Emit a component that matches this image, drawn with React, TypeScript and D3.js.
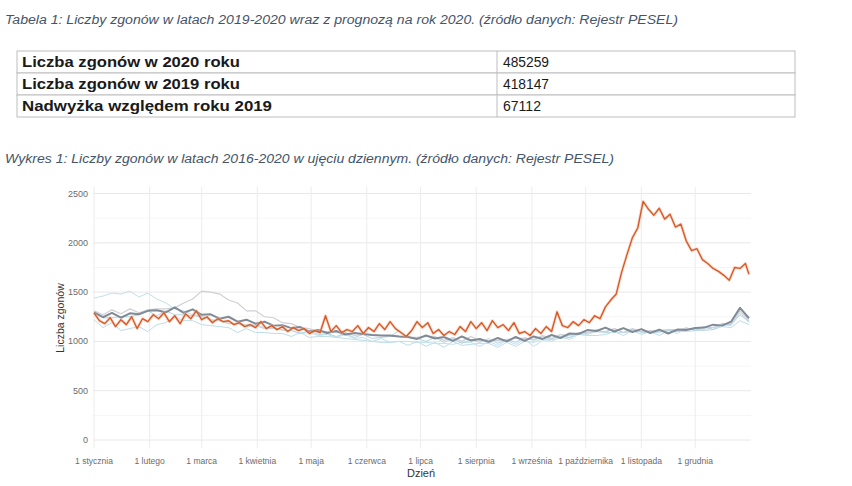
import React from "react";
import * as d3 from "d3";

// ---------- Table data ----------
const tableLabels = ["Liczba zgonów w 2020 roku", "Liczba zgonów w 2019 roku", "Nadwyżka względem roku 2019"];
const tableValues = ["485259", "418147", "67112"];

const tableTitle = "Tabela 1: Liczby zgonów w latach 2019-2020 wraz z prognozą na rok 2020. (źródło danych: Rejestr PESEL)";
const chartTitle = "Wykres 1: Liczby zgonów w latach 2016-2020 w ujęciu dziennym. (źródło danych: Rejestr PESEL)";

// ---------- Chart axis data ----------
const monthLabels = ["1 stycznia", "1 lutego", "1 marca", "1 kwietnia", "1 maja", "1 czerwca", "1 lipca", "1 sierpnia", "1 września", "1 października", "1 listopada", "1 grudnia"];
const monthStartDays = [0, 31, 60, 91, 121, 152, 182, 213, 244, 274, 305, 335];
const yTicks = [0, 500, 1000, 1500, 2000, 2500];
const yMinorTicks = [250, 750, 1250, 1750, 2250];

// ---------- Series (daily deaths, sampled) ----------
// 2020, one value every 3 days
const step2020 = 3;
const deaths2020 = [
  1290, 1210, 1180, 1240, 1150, 1220, 1170, 1250, 1130, 1230, 1200, 1270, 1230, 1290, 1200, 1260, 1180, 1280, 1230, 1310,
  1220, 1250, 1190, 1230, 1200, 1210, 1170, 1190, 1150, 1170, 1140, 1200, 1130, 1160, 1120, 1150, 1100, 1140, 1110, 1130,
  1080, 1110, 1090, 1260, 1100, 1160, 1090, 1120, 1100, 1160, 1080, 1140, 1100, 1180, 1120, 1200, 1130, 1090, 1050, 1110,
  1200, 1140, 1190, 1080, 1120, 1060, 1100, 1070, 1150, 1100, 1200, 1130, 1190, 1110, 1210, 1140, 1170, 1110, 1190, 1080,
  1100, 1060, 1130, 1080, 1150, 1100, 1300, 1160, 1140, 1200, 1160, 1220, 1190, 1260, 1230, 1350, 1420, 1480, 1700, 1880,
  2050, 2150, 2420, 2340, 2280, 2350, 2240, 2290, 2160, 2190, 2020, 1920, 1940, 1830, 1790, 1740, 1710, 1670, 1620, 1750,
  1740, 1790, 1680,
];

// background years and mean, one value every 5 days
const stepBg = 5;
const deathsMean = [
  1295, 1245, 1290, 1240, 1285, 1275, 1310, 1315, 1295, 1345, 1290, 1325, 1270, 1275, 1230, 1250, 1200, 1220, 1180, 1200,
  1160, 1165, 1135, 1145, 1100, 1115, 1085, 1105, 1070, 1085, 1075, 1065, 1060, 1060, 1050, 1045, 1025, 1060, 1030, 1045,
  1005, 1050, 1010, 1025, 995, 1035, 1000, 1045, 1005, 1050, 1025, 1065, 1035, 1080, 1075, 1115, 1105, 1140, 1100, 1135,
  1095, 1125, 1085, 1120, 1080, 1120, 1115, 1135, 1140, 1170, 1160, 1200, 1340, 1235,
];
const deaths2016 = [
  1220, 1140, 1190, 1110, 1130, 1150, 1100, 1170, 1190, 1250, 1210, 1210, 1170, 1160, 1150, 1140, 1090, 1130, 1090, 1090,
  1080, 1080, 1050, 1090, 1040, 1050, 1050, 1040, 1030, 1020, 1010, 1000, 990, 990, 1000, 960, 1000, 950, 990, 940,
  1000, 960, 970, 980, 980, 940, 990, 950, 1000, 990, 1030, 1000, 1050, 1020, 1070, 1060, 1060, 1070, 1100, 1060,
  1110, 1070, 1100, 1060, 1110, 1100, 1100, 1110, 1110, 1120, 1150, 1140, 1210, 1170,
];
const deaths2017 = [
  1440, 1460, 1490, 1480, 1510, 1450, 1490, 1430, 1390, 1330, 1310, 1270, 1260, 1210, 1210, 1180, 1180, 1170, 1170, 1140,
  1140, 1110, 1110, 1080, 1090, 1060, 1070, 1040, 1070, 1030, 1040, 1000, 1030, 990, 1000, 1000, 990, 990, 980, 980,
  970, 990, 990, 950, 1000, 960, 1010, 970, 1020, 950, 1010, 1020, 1030, 1040, 1070, 1070, 1100, 1090, 1090, 1090,
  1100, 1100, 1090, 1090, 1120, 1080, 1130, 1120, 1120, 1140, 1170, 1160, 1290, 1190,
];
const deaths2018 = [
  1310, 1270, 1320, 1280, 1330, 1290, 1320, 1330, 1330, 1340, 1390, 1430, 1510, 1500, 1480, 1420, 1390, 1310, 1310, 1250,
  1240, 1190, 1180, 1140, 1130, 1090, 1100, 1090, 1090, 1060, 1070, 1070, 1060, 1050, 1050, 1040, 1040, 1050, 1050, 1010,
  1040, 1000, 1050, 1010, 1010, 1010, 1020, 1030, 1030, 1020, 1060, 1030, 1070, 1060, 1090, 1090, 1100, 1100, 1130, 1090,
  1130, 1100, 1110, 1110, 1120, 1120, 1130, 1130, 1140, 1140, 1180, 1180, 1310, 1210,
];
const deaths2019 = [
  1290, 1240, 1240, 1250, 1250, 1270, 1310, 1260, 1310, 1270, 1270, 1260, 1250, 1220, 1210, 1180, 1180, 1150, 1160, 1130,
  1130, 1120, 1110, 1080, 1110, 1070, 1080, 1050, 1080, 1040, 1070, 1030, 1040, 1050, 1110, 1040, 1030, 1000, 1040, 990,
  1030, 980, 1020, 990, 1030, 980, 1020, 990, 1040, 1010, 1050, 1020, 1070, 1040, 1090, 1080, 1120, 1090, 1130, 1090,
  1120, 1090, 1100, 1100, 1110, 1100, 1140, 1110, 1150, 1120, 1170, 1170, 1270, 1200,
];

const W = 852;
const H = 486;
const LAST_DAY = 365;

const x = d3.scaleLinear().domain([0, LAST_DAY]).range([94, 749]);
const y = d3.scaleLinear().domain([0, 2500]).range([440, 193.5]);

function toPoints(values: number[], step: number): [number, number][] {
  return values.map((v, i) => [Math.min(i * step, LAST_DAY), v]);
}

const line = d3
  .line<[number, number]>()
  .x((d) => x(d[0]))
  .y((d) => y(d[1]));

const bgSeries = [
  { name: "2016", values: deaths2016, color: "#bddde9", width: 1 },
  { name: "2017", values: deaths2017, color: "#c2e0eb", width: 1 },
  { name: "2019", values: deaths2019, color: "#b3d6e4", width: 1 },
  { name: "2018", values: deaths2018, color: "#d0d0d6", width: 1.2 },
];

const titleColor = "#44546a";
const font = "'Liberation Sans', Arial, sans-serif";

export default function App() {
  const rowTop = [51, 73, 95];
  const rowH = 22;
  const tLeft = 17;
  const tRight = 795;
  const tMid = 497;
  const tableLabelWidths = [218, 218, 250];
  const tableValueWidths = [46, 46, 38];

  const panelTop = 187;
  const panelBottom = 448;
  const panelLeft = 93;
  const panelRight = 751;

  return (
    <svg width={W} height={H} style={{ position: "absolute", left: 0, top: 0, background: "#fff" }}>
      <rect width={W} height={H} fill="#fff" />
      {/* Table title */}
      <text x={5} y={24} fontFamily={font} fontStyle="italic" fontSize={12} fill={titleColor} textLength={673} lengthAdjust="spacingAndGlyphs">
        {tableTitle}
      </text>

      {/* Table */}
      <g>
        {rowTop.map((t, i) => (
          <g key={i}>
            <rect x={tLeft} y={t} width={tRight - tLeft} height={rowH} fill="#fff" stroke="#bdbdbd" strokeWidth={1} />
            <line x1={tMid} x2={tMid} y1={t} y2={t + rowH} stroke="#bdbdbd" strokeWidth={1} />
            <text x={22} y={t + 16} fontFamily={font} fontWeight="bold" fontSize={14} fill="#1a1a1a" textLength={tableLabelWidths[i]} lengthAdjust="spacingAndGlyphs">
              {tableLabels[i]}
            </text>
            <text x={503} y={t + 16} fontFamily={font} fontSize={14} fill="#1a1a1a" textLength={tableValueWidths[i]} lengthAdjust="spacingAndGlyphs">
              {tableValues[i]}
            </text>
          </g>
        ))}
      </g>

      {/* Chart title */}
      <text x={5} y={163} fontFamily={font} fontStyle="italic" fontSize={12} fill={titleColor} textLength={609} lengthAdjust="spacingAndGlyphs">
        {chartTitle}
      </text>

      {/* Grid */}
      <g>
        {yMinorTicks.map((t) => (
          <line key={"ym" + t} x1={panelLeft} x2={panelRight} y1={y(t)} y2={y(t)} stroke="#f3f3f3" strokeWidth={0.8} />
        ))}
        {yTicks.map((t) => (
          <line key={"y" + t} x1={panelLeft} x2={panelRight} y1={y(t)} y2={y(t)} stroke="#e8e8e8" strokeWidth={1} />
        ))}
        {monthStartDays.map((d) => (
          <line key={"x" + d} x1={x(d)} x2={x(d)} y1={panelTop} y2={panelBottom} stroke="#ececec" strokeWidth={1} />
        ))}
      </g>

      {/* Series */}
      <g fill="none" strokeLinejoin="round">
        {bgSeries.map((s) => (
          <path key={s.name} d={line(toPoints(s.values, stepBg)) || ""} stroke={s.color} strokeWidth={s.width} />
        ))}
        <path d={line(toPoints(deathsMean, stepBg)) || ""} stroke="#7f8b97" strokeWidth={2} />
        <path d={line(toPoints(deaths2020, step2020)) || ""} stroke="#f3b79a" strokeWidth={3.2} strokeOpacity={0.45} />
        <path d={line(toPoints(deaths2020, step2020)) || ""} stroke="#d65a2a" strokeWidth={1.4} />
      </g>

      {/* Y axis labels */}
      <g fontFamily={font} fontSize={9} fill="#6b6b6b">
        {yTicks.map((t) => (
          <text key={t} x={88} y={y(t) + 3} textAnchor="end">
            {t}
          </text>
        ))}
      </g>
      {/* X axis labels */}
      <g fontFamily={font} fontSize={8.5} fill="#6b6b6b">
        {monthStartDays.map((d, i) => (
          <text key={d} x={x(d)} y={464} textAnchor="middle">
            {monthLabels[i]}
          </text>
        ))}
      </g>
      {/* Axis titles */}
      <text x={421} y={477} textAnchor="middle" fontFamily={font} fontSize={11} fill="#333">
        Dzień
      </text>
      <text transform="translate(64,318) rotate(-90)" textAnchor="middle" fontFamily={font} fontSize={10.5} fill="#333">
        Liczba zgonów
      </text>
    </svg>
  );
}
